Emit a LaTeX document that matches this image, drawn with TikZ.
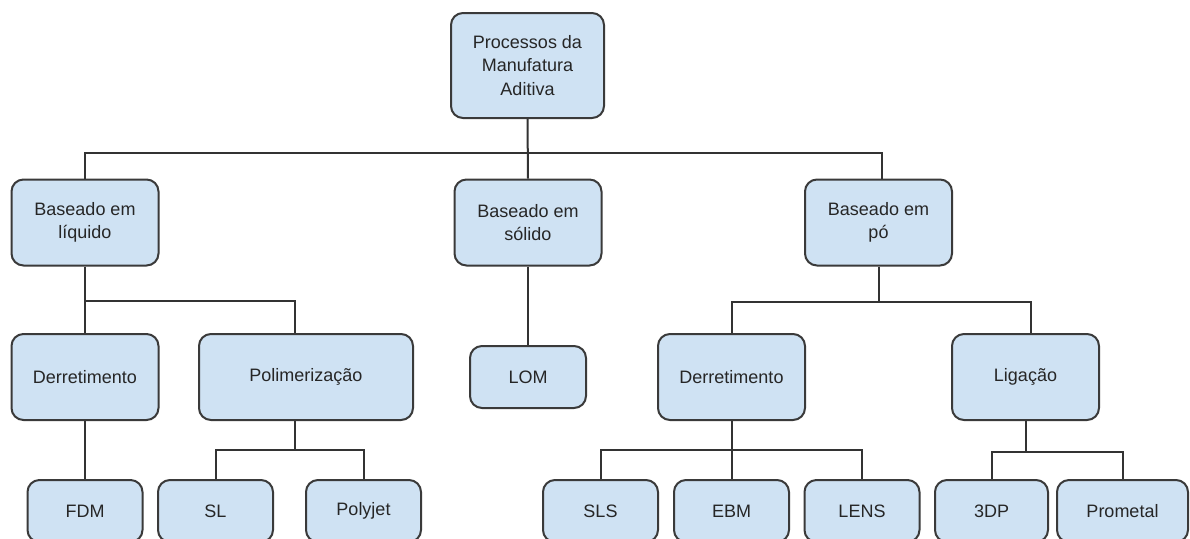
\documentclass[tikz,border=0pt]{standalone}
\usepackage{fontspec}
\setmainfont{Liberation Sans}

\definecolor{boxfill}{HTML}{CFE2F3}
\definecolor{boxline}{HTML}{3A3A3A}
\definecolor{linkline}{HTML}{333333}

\tikzstyle{link} = [line width=1pt, draw=linkline]
\tikzstyle{procbox} = [
        rectangle,
        rounded corners=6pt,
        draw=boxline,
        fill=boxfill,
        line width=1pt,
        inner sep=0pt,
        align=center,
        text=black!85,
        font=\fontsize{9}{11.75}\selectfont
    ]
\tikzstyle{topbox} = [procbox, minimum width=76.5pt, minimum height=52.5pt]
\tikzstyle{midbox} = [procbox, minimum width=73.5pt, minimum height=43pt]
\tikzstyle{leafbox} = [procbox, minimum width=57.5pt, minimum height=31pt]

\begin{document}
\begin{tikzpicture}[x=0.5pt, y=-0.5pt]

        \fill [white] (0,0) rectangle (1190,538);
        \useasboundingbox (0,0) rectangle (1190,538);
        \clip (0,0) rectangle (1190,538);

        % levels
        \node [topbox] (root) at (527.5,65.5) {Processos da\\Manufatura\\Aditiva};

        \node [midbox] (liquido) at (85,222.5) {Baseado em\\líquido};
        \node [midbox] (solido) at (528,222.5) {Baseado em\\sólido};
        \node [midbox] (po) at (878.5,222.5) {Baseado em\\pó};

        \node [midbox] (derretL) at (85,377) {Derretimento};
        \node [midbox, minimum width=107pt] (polimer) at (306,377) {Polimerização};
        \node [leafbox, minimum width=58pt] (lom) at (528,377) {LOM};
        \node [midbox] (derretR) at (731.5,377) {Derretimento};
        \node [midbox] (ligacao) at (1025.5,377) {Ligação};

        \node [leafbox] (fdm) at (85,511) {FDM};
        \node [leafbox] (sl) at (215.5,511) {SL};
        \node [leafbox] (polyjet) at (363.5,511) {Polyjet};
        \node [leafbox] (sls) at (600.5,511) {SLS};
        \node [leafbox] (ebm) at (731.5,511) {EBM};
        \node [leafbox] (lens) at (862,511) {LENS};
        \node [leafbox, minimum width=56.5pt] (tdp) at (991.5,511) {3DP};
        \node [leafbox, minimum width=65.5pt] (prometal) at (1122.5,511) {Prometal};

        % bus levels
        \coordinate (bus0) at (0,153);
        \coordinate (busL) at (0,301);
        \coordinate (busP) at (0,302);
        \coordinate (busPoli) at (0,450);
        \coordinate (busD) at (0,450);
        \coordinate (busLig) at (0,452);
        \coordinate (potop) at ([xshift=1.75pt]po.north);
        \coordinate (poltop) at ([xshift=-5.5pt]polimer.north);
        \coordinate (polbot) at ([xshift=-5.75pt]polimer.south);
        \coordinate (ligtop) at ([xshift=2.75pt]ligacao.north);

        \draw [link] (root.south) -- (solido.north);
        \draw [link] (liquido.north) |- (potop |- bus0) -- (potop);

        \draw [link] (liquido.south) -- (derretL.north);
        \draw [link] (liquido.south |- busL) -| (poltop);
        \draw [link] (solido.south) -- (lom.north);
        \draw [link] (po.south) -- (po.south |- busP);
        \draw [link] (derretR.north) |- (ligtop |- busP) -- (ligtop);

        \draw [link] (derretL.south) -- (fdm.north);
        \draw [link] (polbot) -- (polbot |- busPoli);
        \draw [link] (sl.north) |- (polyjet.north |- busPoli) -- (polyjet.north);
        \draw [link] (derretR.south) -- (ebm.north);
        \draw [link] (sls.north) |- (lens.north |- busD) -- (lens.north);
        \draw [link] (ligacao.south) -- (ligacao.south |- busLig);
        \draw [link] (tdp.north) |- (prometal.north |- busLig) -- (prometal.north);

    \end{tikzpicture}
\end{document}
